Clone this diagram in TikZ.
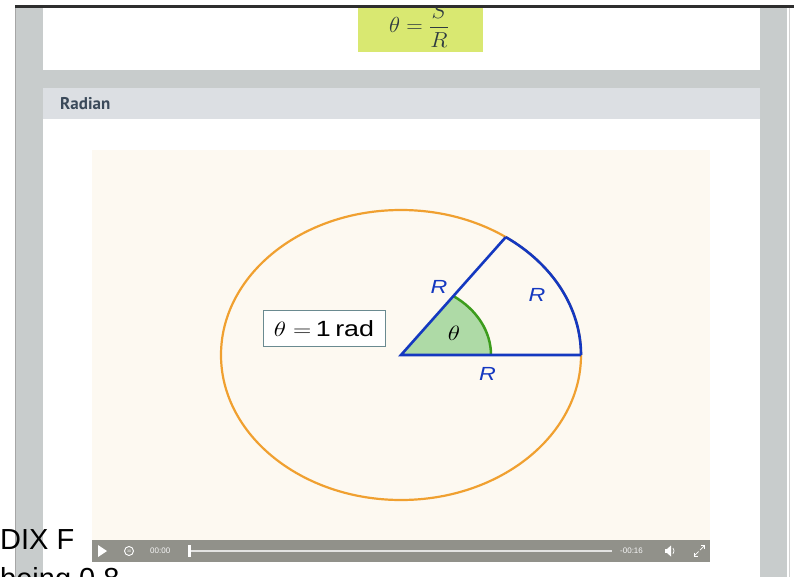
\documentclass[tikz,border=0pt]{standalone}
\usepackage{graphicx}
\usepackage{fontspec}
\newfontfamily\arial{Liberation Sans}
\newfontfamily\ptsans{PT Sans}
\usetikzlibrary{calc}
\definecolor{pagegray}{HTML}{C8CCCC}
\definecolor{hdrgray}{HTML}{DCDFE3}
\definecolor{hdrtext}{HTML}{3B4A5A}
\definecolor{ygreen}{HTML}{D9E871}
\definecolor{cream}{HTML}{FDF9F1}
\definecolor{orng}{HTML}{F0A030}
\definecolor{rblue}{HTML}{1438C0}
\definecolor{gfill}{HTML}{AEDAA6}
\definecolor{gline}{HTML}{3C9C1C}
\definecolor{ctrl}{HTML}{91918A}
\definecolor{boxedge}{HTML}{6A8A90}
\definecolor{formtext}{HTML}{2E3A40}
\newcommand{\stretchx}[1]{\scalebox{1.22}[1]{#1}}
\tikzset{
  rlabel/.style={font=\arial\itshape\fontsize{19}{19}\selectfont, text=rblue, inner sep=0pt},
  ctrltext/.style={font=\arial\fontsize{8}{8}\selectfont, text=white!92!ctrl, inner sep=0pt, anchor=west},
}
\begin{document}
\begin{tikzpicture}[x=1pt,y=-1pt]
\useasboundingbox (0,0) rectangle (794,577);
\fill[white] (0,0) rectangle (794,577);
% page gray column
\fill[pagegray] (15,8) rectangle (787,577);
\draw[gray!70, line width=0.8pt] (15.4,8) -- (15.4,577);
\draw[gray!35, line width=0.8pt] (789,8) -- (789,577);
% top dark bar
\fill[black!82] (15,5) rectangle (794,8);
% top white panel with formula
\fill[white] (43,8) rectangle (760,70);
\fill[ygreen] (358,8) rectangle (483,52);
\begin{scope}
\clip (358,8) rectangle (483,52);
\node[anchor=base, inner sep=0pt, font=\fontsize{20}{20}\selectfont, text=formtext] (formula) at (419,33) {\scalebox{1.1}[1.05]{$\displaystyle\theta = \frac{S}{R}$}};
\end{scope}
% header
\fill[hdrgray] (43,88) rectangle (760,119);
\node[anchor=west, inner sep=0pt, font=\ptsans\bfseries\fontsize{17}{17}\selectfont, text=hdrtext] (hdr) at (60,104) {Radian};
% content panel
\fill[white] (43,119) rectangle (760,577);
% video area
\fill[cream] (92,150) rectangle (710,540);
\fill[ctrl] (92,540) rectangle (710,562);
% circle (ellipse)
\coordinate (O) at (401,355);
\coordinate (A) at (581,355);
\coordinate (B) at ($(O)+({180*cos(-54.4)},{145*sin(-54.4)})$);
\draw[orng, line width=2.2pt] (O) ellipse[x radius=180, y radius=145];
% green angle sector
\fill[gfill] (O) -- ++(90,0) arc[start angle=0, end angle=-54.4, x radius=90, y radius=72.5] -- cycle;
\draw[gline, line width=2.5pt] ($(O)+(90,0)$) arc[start angle=0, end angle=-54.4, x radius=90, y radius=72.5];
% blue sector
\draw[rblue, line width=2.6pt, line join=miter] (B) -- (O) -- (A);
\draw[rblue, line width=2.6pt] (A) arc[start angle=0, end angle=-54.4, x radius=180, y radius=145];
% labels
\node[rlabel] (r1) at (439,286.5) {\stretchx{R}};
\node[rlabel] (r2) at (537,294.5) {\stretchx{R}};
\node[rlabel] (r3) at (487.5,374) {\stretchx{R}};
\node[inner sep=0pt, font=\fontsize{21}{21}\selectfont] (th) at (454,333) {\stretchx{$\theta$}};
\node[draw=boxedge, fill=white, line width=0.8pt, minimum width=122pt, minimum height=36pt, inner sep=0pt, font=\fontsize{22}{22}\selectfont] (eq) at (324,328.5) {\stretchx{$\theta = $\,{\arial 1\,rad}}};
% control bar
\fill[white] (98,545) -- (98,557) -- (107,551) -- cycle;
\draw[white, line width=0.9pt] (129,551) circle[radius=4.5];
\node[inner sep=0pt, font=\arial\fontsize{3.5}{3.5}\selectfont, text=white] (rw) at (129,551.3) {30};
\node[ctrltext] (t0) at (150,551) {00:00};
\draw[white!75!ctrl, line width=2pt] (190,551) -- (612,551);
\fill[white] (188,545) rectangle (190.5,557);
\node[ctrltext] (t1) at (620,551) {-00:16};
\fill[white] (665,549) rectangle (667,553);
\fill[white] (667,549) -- (671,545.5) -- (671,556.5) -- (667,553) -- cycle;
\draw[white, line width=0.7pt] (673,548) arc[start angle=-40, end angle=40, radius=4.5];
\draw[white, line width=0.7pt] (694,556) -- (698.5,551.5);
\draw[white, line width=0.7pt] (694,552.5) -- (694,556) -- (697.5,556);
\draw[white, line width=0.7pt] (700,550) -- (704.5,545.5);
\draw[white, line width=0.7pt] (701,545.5) -- (704.5,545.5) -- (704.5,549);
% overlaid page text bottom-left
\node[anchor=base west, inner sep=0pt, font=\arial\fontsize{29}{29}\selectfont] (dix) at (0,549) {DIX F};
\node[anchor=base west, inner sep=0pt, font=\arial\fontsize{29}{29}\selectfont] (being) at (0,588) {being 0.8};
\end{tikzpicture}
\end{document}
